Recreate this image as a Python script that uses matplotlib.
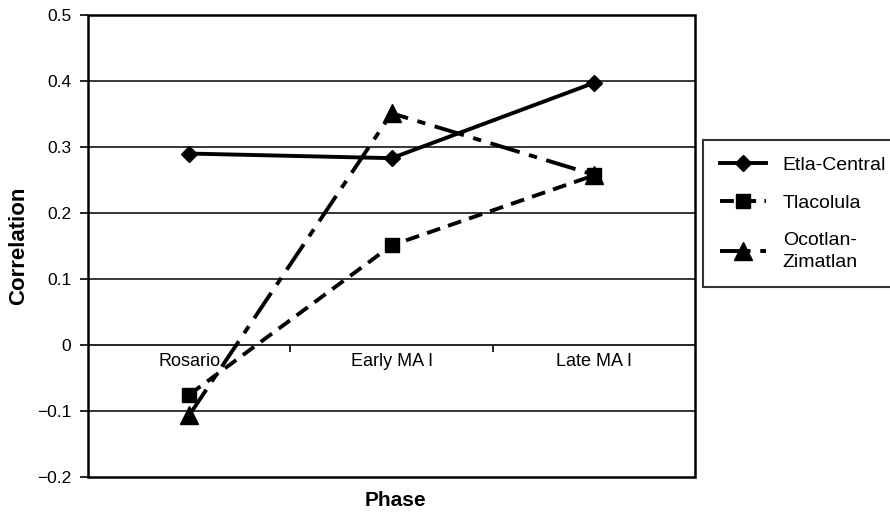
import matplotlib
matplotlib.use("Agg")
import matplotlib.pyplot as plt
from matplotlib.patches import Rectangle

plt.rcParams['font.family'] = ['Liberation Sans', 'DejaVu Sans']
plt.rcParams['lines.scale_dashes'] = False

phases = ["Rosario", "Early MA I", "Late MA I"]
etla_central = [0.290, 0.283, 0.397]
tlacolula = [-0.075, 0.151, 0.257]
ocotlan_zimatlan = [-0.106, 0.351, 0.258]

x = list(range(len(phases)))

fig = plt.figure(figsize=(8.9, 5.12), dpi=100)
ax = fig.add_axes([0.099, 0.068, 0.682, 0.903])

# horizontal grid
for yv in [-0.1, 0.1, 0.2, 0.3, 0.4]:
    ax.axhline(yv, color="black", lw=1.1, zorder=1)

ax.plot(x, ocotlan_zimatlan, color="black", lw=2.8, dashes=(22, 7, 6, 7),
        marker="^", ms=13, label="Ocotlan-\nZimatlan", zorder=3)
ax.plot(x, tlacolula, color="black", lw=2.8, dashes=(10, 6),
        marker="s", ms=10, label="Tlacolula", zorder=4)
ax.plot(x, etla_central, color="black", lw=2.8, marker="D", ms=8.5,
        label="Etla-Central", zorder=5)

ax.set_xlim(-0.5, 2.5)
ax.set_ylim(-0.2, 0.5)
ax.set_yticks([-0.2, -0.1, 0, 0.1, 0.2, 0.3, 0.4, 0.5])
ax.set_yticklabels(["\u22120.2", "\u22120.1", "0", "0.1", "0.2", "0.3", "0.4", "0.5"])
ax.tick_params(axis="y", direction="out", length=6, width=1.2, labelsize=12.5, pad=6)

# category axis sits on y = 0
ax.spines["bottom"].set_position(("data", 0))
ax.spines["bottom"].set_linewidth(1.2)
ax.set_xticks(x)
ax.set_xticklabels(phases)
ax.set_xticks([0.5, 1.5], minor=True)
ax.tick_params(axis="x", which="major", length=0, labelsize=13, pad=6)
ax.tick_params(axis="x", which="minor", direction="out", length=5, width=1.2)

for s in ["top", "right", "left"]:
    ax.spines[s].set_visible(False)
ax.add_patch(Rectangle((0, 0), 1, 1, transform=ax.transAxes, fill=False,
                       edgecolor="black", lw=1.8, zorder=6, clip_on=False))

ax.set_ylabel("Correlation", fontsize=16, fontweight="bold", labelpad=6)
fig.text(0.444, 0.023, "Phase", fontsize=15, fontweight="bold", ha="center", va="center")

handles, labels = ax.get_legend_handles_labels()
order = [2, 1, 0]
leg = fig.legend([handles[i] for i in order], [labels[i] for i in order],
                 loc="upper left", bbox_to_anchor=(0.79, 0.727),
                 bbox_transform=fig.transFigure, fontsize=14, frameon=True,
                 fancybox=False, edgecolor="black", borderaxespad=0,
                 handlelength=2.4, handletextpad=0.85, labelspacing=1.05,
                 borderpad=0.85)
leg.get_frame().set_linewidth(1.5)
for t in leg.get_texts():
    t.set_linespacing(1.35)

fig.savefig("out.png", dpi=100)
